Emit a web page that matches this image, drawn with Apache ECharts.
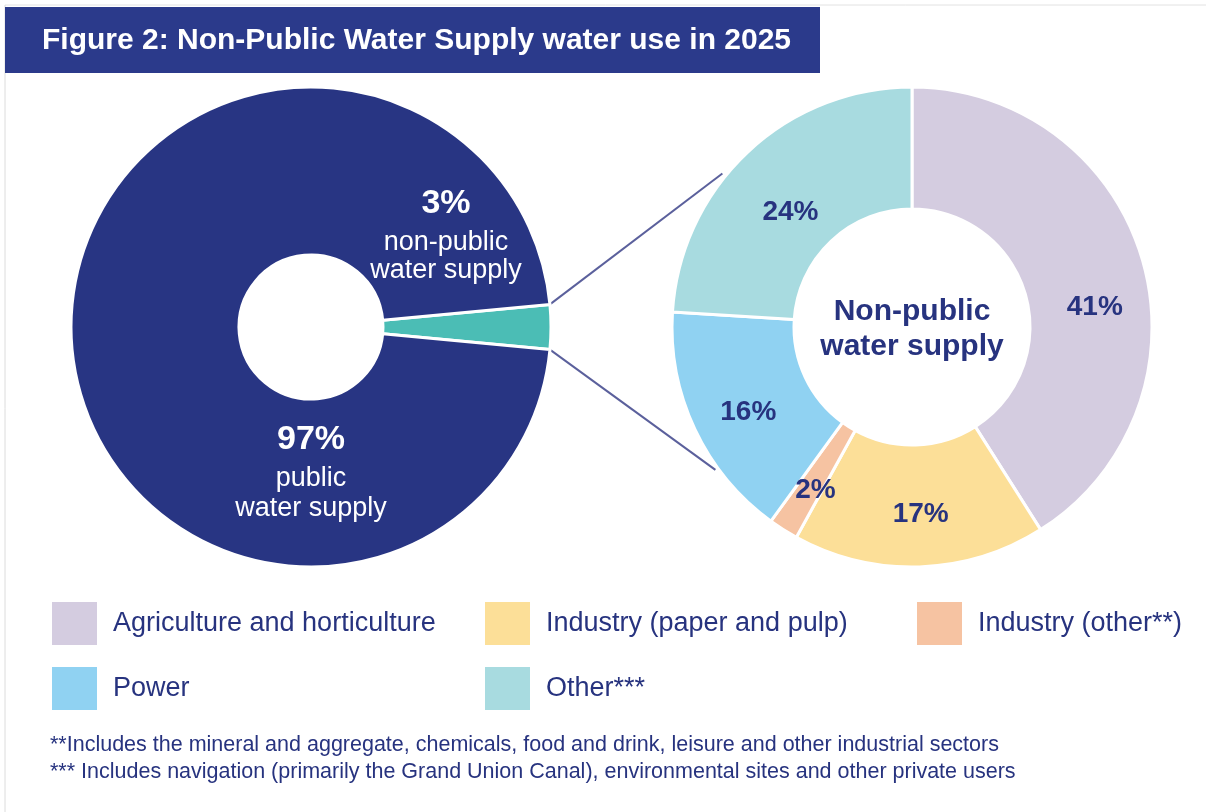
<!DOCTYPE html>
<html>
<head>
<meta charset="utf-8">
<title>Figure 2: Non-Public Water Supply water use in 2025</title>
<script src="https://cdn.jsdelivr.net/npm/echarts@6/dist/echarts.min.js"></script>
<style>
  html, body { margin: 0; padding: 0; background: #fff; }
  #main { width: 1206px; height: 812px; }
</style>
</head>
<body>
<div id="main"></div>
<script type="text/javascript">
// data
var titleText = 'Figure 2: Non-Public Water Supply water use in 2025';
var supplyNames = ['non-public water supply', 'public water supply'];
var supplyShares = [3, 97];
var useNames = ['Agriculture and horticulture', 'Industry (paper and pulp)', 'Industry (other**)', 'Power', 'Other***'];
var useShares = [41, 17, 2, 16, 24];
var footnotes = [
    '**Includes the mineral and aggregate, chemicals, food and drink, leisure and other industrial sectors',
    '*** Includes navigation (primarily the Grand Union Canal), environmental sites and other private users'
];

var NAVY = '#27337f';
var FONT = '"Liberation Sans", Arial, sans-serif';
var useColors = ['#d4cce0', '#fcdf98', '#f6c3a2', '#90d2f2', '#a8dbe0'];

// layout
var leftC = [311, 327], leftR = [72, 240];
var rightC = [912, 327], rightR = [118, 240];
// small nudges so the percentage labels sit where the original puts them
var labelNudge = [[8, 31], [3, 5], [1, 10], [1, 8], [3, 18]];

// connector lines from edges of the small wedge to the donut
var half = supplyShares[0] / 100 * Math.PI;
function polar(c, r, a) { return [c[0] + r * Math.cos(a), c[1] - r * Math.sin(a)]; }
var p1 = polar(leftC, leftR[1], half), p2 = polar(leftC, leftR[1], -half);
var q1 = polar(rightC, rightR[1] + 4, 141 * Math.PI / 180);
var q2 = polar(rightC, rightR[1] + 3, -144 * Math.PI / 180);

var myChart = echarts.init(document.getElementById('main'));

function legendFor(names, left) {
    return {
        orient: 'vertical',
        left: left,
        top: 600,
        padding: 0,
        itemGap: 18,
        itemWidth: 47,
        itemHeight: 45,
        icon: 'rect',
        selectedMode: false,
        textStyle: { color: NAVY, fontSize: 27, fontFamily: FONT, padding: [0, 0, 0, 10] },
        data: names
    };
}

function txt(x, y, s, fill, font, align) {
    return { type: 'text', z: 10, x: x, y: y,
        style: { text: s, fill: fill, font: font, textAlign: align || 'center', textVerticalAlign: 'middle' } };
}

myChart.setOption({
    animation: false,
    textStyle: { fontFamily: FONT },
    legend: [
        legendFor([useNames[0], useNames[3]], 50),
        legendFor([useNames[1], useNames[4]], 483),
        legendFor([useNames[2]], 915)
    ],
    graphic: [
        { type: 'line', shape: { x1: 5, y1: 5, x2: 1206, y2: 5 }, style: { stroke: '#e2e2e2', lineWidth: 1 } },
        { type: 'line', shape: { x1: 5, y1: 5, x2: 5, y2: 812 }, style: { stroke: '#dcdcdc', lineWidth: 1 } },
        { type: 'rect', shape: { x: 5, y: 7, width: 815, height: 66 }, style: { fill: '#2b3a8b' } },
        txt(42, 41, titleText, '#fff', 'bold 30px ' + FONT, 'left'),
        { type: 'line', z: 1, shape: { x1: p1[0], y1: p1[1], x2: q1[0], y2: q1[1] }, style: { stroke: '#5b609c', lineWidth: 2 } },
        { type: 'line', z: 1, shape: { x1: p2[0], y1: p2[1], x2: q2[0], y2: q2[1] }, style: { stroke: '#5b609c', lineWidth: 2 } },
        txt(446, 204, supplyShares[0] + '%', '#fff', 'bold 34px ' + FONT),
        txt(446, 243, 'non-public', '#fff', '27px ' + FONT),
        txt(446, 271, 'water supply', '#fff', '27px ' + FONT),
        txt(311, 440, supplyShares[1] + '%', '#fff', 'bold 34px ' + FONT),
        txt(311, 479, 'public', '#fff', '27px ' + FONT),
        txt(311, 509, 'water supply', '#fff', '27px ' + FONT),
        txt(rightC[0], 312, 'Non-public', NAVY, 'bold 30px ' + FONT),
        txt(rightC[0], 347, 'water supply', NAVY, 'bold 30px ' + FONT),
        txt(50, 745, footnotes[0], NAVY, '21.5px ' + FONT, 'left'),
        txt(50, 772, footnotes[1], NAVY, '21.5px ' + FONT, 'left')
    ],
    series: [
        {
            name: 'Water supply',
            type: 'pie',
            center: leftC,
            radius: leftR,
            startAngle: supplyShares[0] / 100 * 180,
            clockwise: true,
            silent: true,
            label: { show: false },
            labelLine: { show: false },
            itemStyle: { borderColor: '#fff', borderWidth: 3 },
            data: supplyNames.map(function (n, i) {
                return { name: n, value: supplyShares[i], itemStyle: { color: i === 0 ? '#4bbdb5' : '#283583' } };
            })
        },
        {
            name: 'Non-public water supply',
            type: 'pie',
            center: rightC,
            radius: rightR,
            startAngle: 90,
            clockwise: true,
            silent: true,
            label: {
                show: true,
                position: 'inside',
                formatter: '{c}%',
                color: NAVY,
                fontSize: 28,
                fontWeight: 'bold'
            },
            labelLayout: function (p) {
                var n = labelNudge[p.dataIndex];
                return { dx: n[0], dy: n[1] };
            },
            labelLine: { show: false },
            itemStyle: { borderColor: '#fff', borderWidth: 3 },
            data: useNames.map(function (n, i) {
                return { name: n, value: useShares[i], itemStyle: { color: useColors[i] } };
            })
        }
    ]
});
</script>
</body>
</html>
